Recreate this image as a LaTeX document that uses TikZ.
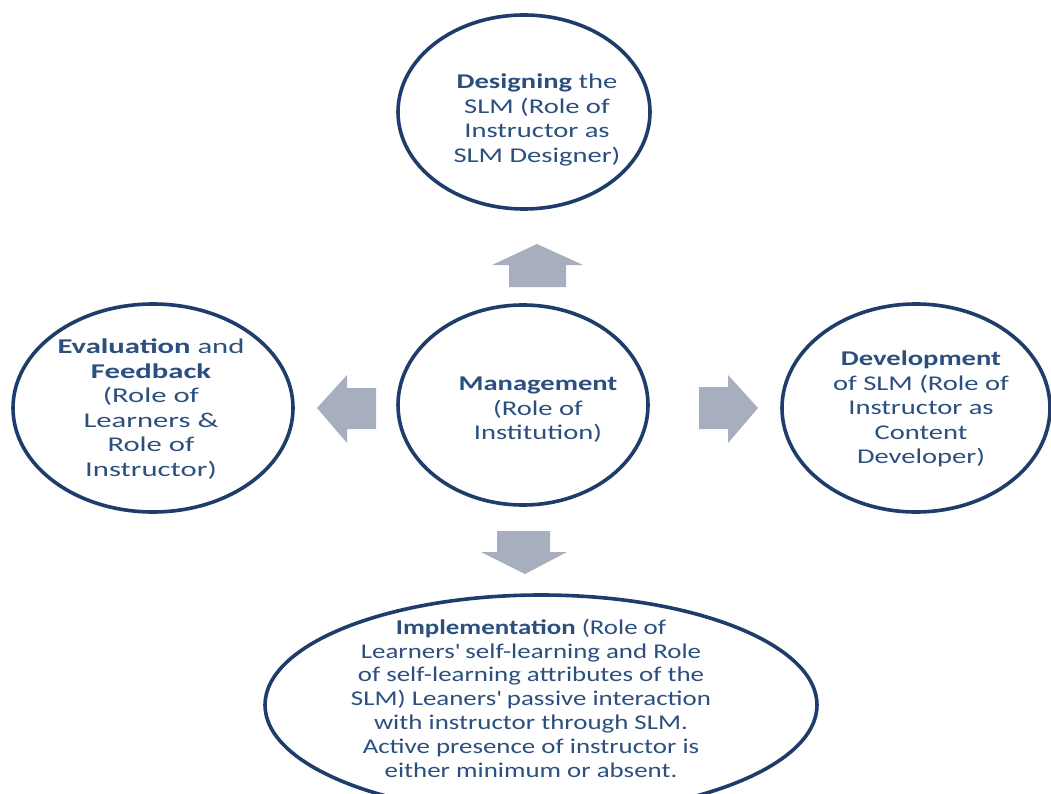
\documentclass[tikz,border=0pt]{standalone}
\usepackage{fontspec}
\setmainfont{Carlito}
% Carlito widened to the proportions of the printed labels
\newfontfamily\widefont[FakeStretch=1.36]{Carlito}
\newfontfamily\widerfont[FakeStretch=1.46]{Carlito}
\newfontfamily\midfont[FakeStretch=1.28]{Carlito}
\usetikzlibrary{shapes.geometric}
\definecolor{ringblue}{HTML}{1E3D6B}
\definecolor{textblue}{HTML}{2B4F7E}
\definecolor{arrowgrey}{HTML}{A7AEBE}
\begin{document}
\begin{tikzpicture}[x=1pt,y=-1pt,
  ring/.style={ellipse, draw=ringblue, line width=3.6pt, inner sep=0pt},
  label/.style={text=textblue, align=center, inner sep=0pt,
    font=\widefont\fontsize{21}{24.5}\selectfont},
  blockarrow/.style={fill=arrowgrey, draw=none}]
\clip (0,0) rectangle (1051,794);
\fill[white] (0,0) rectangle (1051,794);

% the five stages
\node[ring, minimum width=252pt, minimum height=194pt] (design) at (524,112) {};
\node[ring, minimum width=250pt, minimum height=200pt] (manage) at (523,405) {};
\node[ring, minimum width=280pt, minimum height=208pt] (eval) at (153,408) {};
\node[ring, minimum width=268pt, minimum height=208pt] (develop) at (916,408) {};
\node[ring, minimum width=552pt, minimum height=220pt] (implement) at (541,705) {};

\node[label] (designtext) at (537,120) {\textbf{Designing} the\\SLM (Role of\\Instructor as\\SLM Designer)};
\node[label] (managetext) at (538,410) {\textbf{Management}\\(Role of\\Institution)};
\node[label, font=\widerfont\fontsize{21}{24.6}\selectfont] (evaltext) at (151,409) {\textbf{Evaluation} and\\\textbf{Feedback}\\(Role of\\Learners \&\\Role of\\Instructor)};
\node[label] (developtext) at (921,409) {\textbf{Development}\\of SLM (Role of\\Instructor as\\Content\\Developer)};
\node[label, font=\midfont\fontsize{21}{23.8}\selectfont] (implementtext) at (531,698) {\textbf{Implementation} (Role of\\Learners\textquotesingle{} self-learning and Role\\of self-learning attributes of the\\SLM) Leaners\textquotesingle{} passive interaction\\with instructor through SLM.\\Active presence of instructor is\\either minimum or absent.};

% block arrows from the centre outwards
\fill[blockarrow] (509,287) -- (509,265) -- (492,265) -- (537,244) -- (583,265) -- (566,265) -- (566,287) -- cycle;
\fill[blockarrow] (376,388) -- (347,388) -- (347,375) -- (317,408) -- (347,443) -- (347,429) -- (376,429) -- cycle;
\fill[blockarrow] (699,387) -- (728,387) -- (728,375) -- (758,408) -- (728,443) -- (728,429) -- (699,429) -- cycle;
\fill[blockarrow] (497,531) -- (550,531) -- (550,552) -- (567,552) -- (525,574) -- (481,552) -- (497,552) -- cycle;
\end{tikzpicture}
\end{document}
